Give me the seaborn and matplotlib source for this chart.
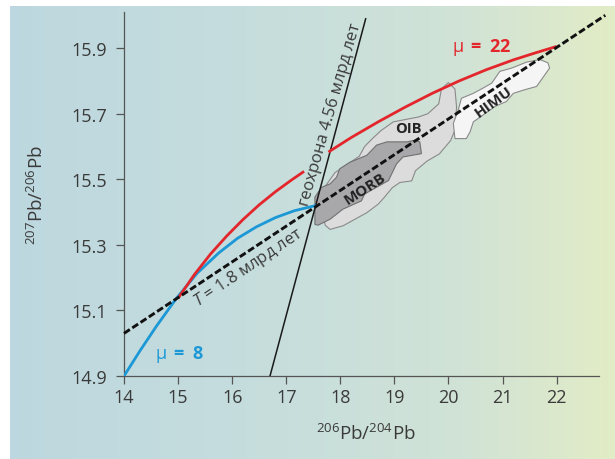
import matplotlib
matplotlib.use("Agg")
import matplotlib.pyplot as plt
import seaborn as sns
import numpy as np
import pandas as pd

# growth curve mu = 8 (blue)
blue_x = [14.0, 14.3, 14.6, 14.97, 15.35, 15.75, 16.1, 16.45, 16.8, 17.15, 17.55]
blue_y = [14.90, 14.978, 15.052, 15.137, 15.213, 15.275, 15.32, 15.355, 15.383, 15.404, 15.42]

# growth curve mu = 22 (red), broken around the geochron label
red_lo_x = [15.0, 15.3, 15.6, 15.9, 16.2, 16.5, 16.8, 17.1, 17.33]
red_lo_y = [15.137, 15.209, 15.272, 15.327, 15.377, 15.422, 15.462, 15.498, 15.524]
red_hi_x = [17.78, 18.2, 18.7, 19.2, 19.7, 20.2, 20.7, 21.2, 21.6, 22.0]
red_hi_y = [15.583, 15.627, 15.675, 15.72, 15.762, 15.80, 15.834, 15.864, 15.885, 15.905]

# geochron and 1.8 Ga isochron
geochron_x = [16.7, 18.47]
geochron_y = [14.9, 15.99]
isochron_x = [14.0, 22.9]
isochron_y = [15.03, 16.0]

# reservoir fields
oib_x = [20.0, 20.12, 20.15, 20.12, 20.04, 19.83, 19.61, 19.39, 19.32, 19.10, 18.96, 18.81,
         18.70, 18.49, 18.27, 18.05, 17.81, 17.72, 17.6, 17.9, 18.35, 18.45, 18.6, 18.75,
         18.98, 19.45, 19.62, 19.82, 19.87]
oib_y = [15.795, 15.775, 15.72, 15.65, 15.618, 15.577, 15.556, 15.526, 15.495, 15.49, 15.474, 15.444,
         15.424, 15.398, 15.378, 15.358, 15.347, 15.36, 15.45, 15.52, 15.57, 15.6, 15.625, 15.648,
         15.675, 15.69, 15.70, 15.73, 15.775]
morb_x = [17.53, 17.53, 17.65, 17.81, 17.93, 17.99, 18.18, 18.49, 18.67, 18.86, 19.23, 19.38,
          19.47, 19.50, 19.16, 19.04, 18.89, 18.73, 18.45, 18.39, 18.05, 17.81, 17.59]
morb_y = [15.362, 15.445, 15.475, 15.486, 15.506, 15.532, 15.552, 15.573, 15.604, 15.614, 15.614, 15.619,
          15.614, 15.578, 15.568, 15.547, 15.496, 15.481, 15.455, 15.434, 15.409, 15.378, 15.360]
himu_x = [20.12, 20.09, 20.18, 20.24, 20.46, 20.64, 20.80, 20.95, 21.17, 21.44, 21.69, 21.84,
          21.87, 21.72, 21.63, 21.41, 21.20, 21.07, 20.86, 20.64, 20.46, 20.40, 20.33]
himu_y = [15.624, 15.670, 15.711, 15.747, 15.762, 15.778, 15.793, 15.829, 15.839, 15.857, 15.865, 15.855,
          15.839, 15.804, 15.783, 15.773, 15.762, 15.737, 15.722, 15.696, 15.675, 15.645, 15.624]

x_ticks = [14, 15, 16, 17, 18, 19, 20, 21, 22]
y_ticks = [14.9, 15.1, 15.3, 15.5, 15.7, 15.9]

sns.set_theme(style="ticks")
plt.rcParams["font.family"] = ["Open Sans", "DejaVu Sans"]
plt.rcParams["mathtext.fontset"] = "custom"
plt.rcParams["mathtext.rm"] = "Open Sans"
plt.rcParams["mathtext.it"] = "Open Sans:italic"
plt.rcParams["mathtext.bf"] = "Open Sans:bold"
plt.rcParams["mathtext.default"] = "regular"

TXT = "#3a3a3a"
RED = "#e3262c"
BLUE = "#1b98d5"

fig = plt.figure(figsize=(6.15, 4.6), dpi=100)

# gradient background panel
bg = fig.add_axes([10 / 615, 0, 605 / 615, 1 - 7 / 460], zorder=-5)
stops = np.array([[0.74, 0.845, 0.875], [0.78, 0.87, 0.865], [0.82, 0.89, 0.84], [0.885, 0.925, 0.775]])
pos = np.linspace(0, 1, 400)
grad = np.stack([np.interp(pos, [0, 0.45, 0.75, 1.0], stops[:, c]) for c in range(3)], axis=-1)
bg.imshow(grad[np.newaxis, :, :], aspect="auto", extent=[0, 1, 0, 1])
bg.axis("off")

ax = fig.add_axes([124 / 615, 83 / 460, 484 / 615, 364 / 460])
ax.patch.set_alpha(0)

# fields
ax.fill(oib_x, oib_y, facecolor="#dcdcdc", edgecolor="#8a8a8a", lw=0.8, zorder=2)
ax.fill(morb_x, morb_y, facecolor="#a8a8aa", edgecolor="#707070", lw=0.8, zorder=2)
ax.fill(himu_x, himu_y, facecolor="#f5f5f5", edgecolor="#8a8a8a", lw=0.8, zorder=2)

# lines
sns.lineplot(x=geochron_x, y=geochron_y, color="#1a1a1a", lw=1.1, ax=ax, sort=False, estimator=None, zorder=3)
for cx, cy, col in [(blue_x, blue_y, BLUE), (red_lo_x, red_lo_y, RED), (red_hi_x, red_hi_y, RED)]:
    sns.lineplot(x=cx, y=cy, color=col, lw=2.0, ax=ax, sort=False, estimator=None, zorder=4,
                 solid_joinstyle="round", solid_capstyle="butt")
sns.lineplot(x=isochron_x, y=isochron_y, color="#111111", lw=2.1, ax=ax, sort=False, estimator=None,
             zorder=5, linestyle=(0, (2.4, 1.0)))
ax.lines[-1].set_clip_on(False)

# labels
ax.text(20.61, 15.905, r"μ $\mathbf{=}$ $\mathbf{22}$", color=RED, fontsize=13, ha="center", va="center")
ax.text(15.02, 14.97, r"μ $\mathbf{=}$ $\mathbf{8}$", color=BLUE, fontsize=13, ha="center", va="center")
ax.text(19.26, 15.655, "OIB", color="#222222", fontsize=10.5, fontweight="bold", ha="center", va="center", zorder=6)
ax.text(18.45, 15.472, "MORB", color="#222222", fontsize=11, fontweight="bold", ha="center", va="center",
        rotation=33, rotation_mode="anchor", zorder=6)
ax.text(20.83, 15.738, "HIMU", color="#222222", fontsize=11, fontweight="bold", ha="center", va="center",
        rotation=36, rotation_mode="anchor", zorder=6)
ax.text(17.82, 15.70, "геохрона 4.56 млрд лет", color=TXT, fontsize=12, ha="center", va="center",
        rotation=74, rotation_mode="anchor")
ax.text(16.3, 15.233, r"$\mathit{T}$ = 1.8 млрд лет", color=TXT, fontsize=12, ha="center", va="center",
        rotation=34, rotation_mode="anchor")

ax.set_xlim(14, 22.95)
ax.set_ylim(14.9, 16.01)
ax.set_xticks(x_ticks)
ax.set_yticks(y_ticks)
ax.set_yticklabels([f"{v:.1f}" for v in y_ticks])
ax.spines["bottom"].set_bounds(14, 22.78)
for s in ["top", "right"]:
    ax.spines[s].set_visible(False)
for s in ["left", "bottom"]:
    ax.spines[s].set_color("#555555")
    ax.spines[s].set_linewidth(0.9)
ax.tick_params(direction="out", length=6, width=0.9, color="#555555", labelcolor=TXT, labelsize=13)
ax.tick_params(axis="y", pad=6)
ax.tick_params(axis="x", pad=3)

ax.set_xlabel(r"$^{206}$Pb/$^{204}$Pb", fontsize=13.5, color=TXT, labelpad=12)
ax.set_ylabel(r"$^{207}$Pb/$^{206}$Pb", fontsize=13.5, color=TXT, labelpad=18)

fig.savefig("out.png", dpi=100)
